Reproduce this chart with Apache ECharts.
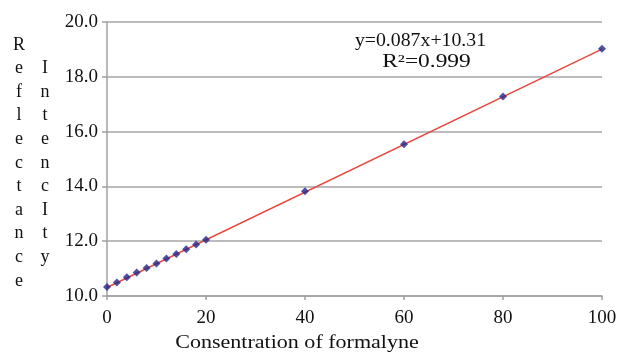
<!DOCTYPE html>
<html>
<head>
<meta charset="utf-8">
<script src="https://cdn.jsdelivr.net/npm/echarts@6/dist/echarts.min.js"></script>
<style>html,body{margin:0;padding:0;background:#fff;}#c{width:621px;height:353px;}</style>
</head>
<body>
<div id="c"></div>
<script>
var concentrations = [0, 2, 4, 6, 8, 10, 12, 14, 16, 18, 20, 40, 60, 80, 100];
var intensities = [10.33, 10.49, 10.68, 10.86, 11.02, 11.19, 11.37, 11.53, 11.71, 11.88, 12.05, 13.82, 15.54, 17.28, 19.02];
var trendX = [0, 100];
var trendY = [10.31, 19.01];
var equationText = 'y=0.087x+10.31';
var r2Text = 'R\u00B2=0.999';
var xTitle = 'Consentration of formalyne';
var yTitle1 = 'Reflectance';
var yTitle2 = 'IntencIty';

var font = '"Liberation Serif", "DejaVu Serif", serif';
var chart = echarts.init(document.getElementById('c'));
function col(s){ return s.split('').join('\n'); }
chart.setOption({
  animation: false,
  backgroundColor: '#fff',
  grid: { left: 107, right: 19, top: 22, bottom: 57 },
  xAxis: {
    type: 'value', min: 0, max: 100, interval: 20,
    axisLine: { show: true, lineStyle: { color: '#a0a0a0', width: 1.5 } },
    axisTick: { show: true, length: 4, lineStyle: { color: '#a0a0a0', width: 1.5 } },
    splitLine: { show: false },
    axisLabel: { color: '#111', fontFamily: font, fontSize: 19, margin: 13 }
  },
  yAxis: {
    type: 'value', min: 10, max: 20, interval: 2,
    axisLine: { show: true, lineStyle: { color: '#a0a0a0', width: 1.5 } },
    axisTick: { show: true, length: 5, lineStyle: { color: '#a0a0a0', width: 1.5 } },
    splitLine: { show: true, lineStyle: { color: '#a6a6a6', width: 1.5 } },
    axisLabel: { color: '#111', fontFamily: font, fontSize: 19, margin: 9,
      formatter: function(v){ return v.toFixed(1); } }
  },
  series: [
    { type: 'line', data: trendX.map(function(x,i){ return [x, trendY[i]]; }),
      symbol: 'none', lineStyle: { color: '#e8473e', width: 1.5 }, z: 2 },
    { type: 'scatter', data: concentrations.map(function(x,i){ return [x, intensities[i]]; }),
      symbol: 'diamond', symbolSize: 8, itemStyle: { color: '#22268a' }, z: 3 }
  ],
  graphic: [
    { type: 'text', x: 420.5, y: 41, scaleX: 1.1, style: { text: equationText, font: '18px ' + font, fill: '#111', align: 'center', verticalAlign: 'middle' } },
    { type: 'text', x: 426.5, y: 62, scaleX: 1.3, style: { text: r2Text, font: '18px ' + font, fill: '#111', align: 'center', verticalAlign: 'middle' } },
    { type: 'text', x: 297, y: 343, scaleX: 1.16, style: { text: xTitle, font: '19px ' + font, fill: '#111', align: 'center', verticalAlign: 'middle' } },
    { type: 'text', x: 19, y: 33, style: { text: col(yTitle1), font: '18px ' + font, fill: '#111', align: 'center', verticalAlign: 'top', lineHeight: 23.6 } },
    { type: 'text', x: 45, y: 56.6, style: { text: col(yTitle2), font: '18px ' + font, fill: '#111', align: 'center', verticalAlign: 'top', lineHeight: 23.6 } }
  ]
});
</script>
</body>
</html>
